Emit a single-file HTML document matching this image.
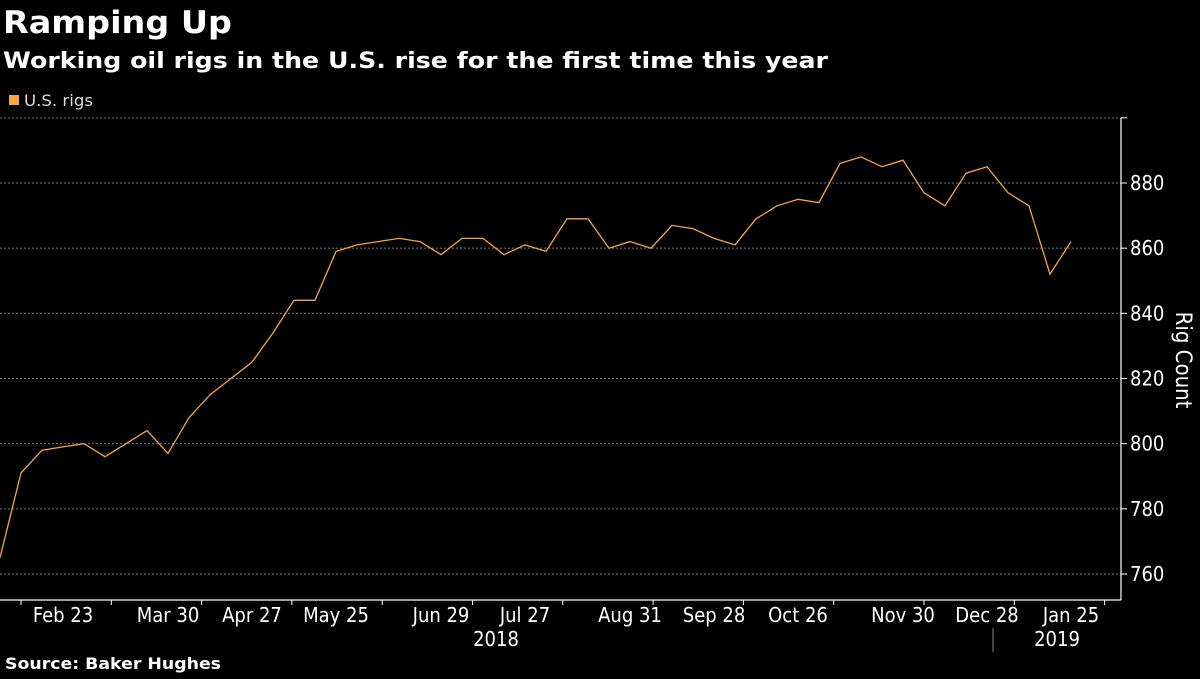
<!DOCTYPE html>
<html><head><meta charset="utf-8"><style>
body{margin:0;background:#000;width:1200px;height:675px;overflow:hidden;font-family:"DejaVu Sans","Liberation Sans",sans-serif;color:#fff}
svg text{font-family:"DejaVu Sans Condensed","DejaVu Sans","Liberation Sans",sans-serif}
</style></head><body>
<svg width="1200" height="675">
<text x="3" y="33" font-size="31" font-weight="bold" fill="#fff" textLength="229" lengthAdjust="spacingAndGlyphs" style="font-family:'DejaVu Sans',sans-serif">Ramping Up</text>
<text x="3" y="68" font-size="22" font-weight="bold" fill="#fff" textLength="825" lengthAdjust="spacingAndGlyphs" style="font-family:'DejaVu Sans',sans-serif">Working oil rigs in the U.S. rise for the first time this year</text>
<g><rect x="9" y="95" width="10" height="10" fill="#f7a541"/><text x="24" y="106" font-size="16" fill="#ddd" textLength="69" lengthAdjust="spacingAndGlyphs">U.S. rigs</text></g>
<g id="grid"></g>
<line x1="0" y1="600" x2="1121" y2="600" stroke="#fff" stroke-width="1.2"/>
<line x1="1121" y1="118" x2="1121" y2="600" stroke="#fff" stroke-width="1.2"/>
<g id="xt"></g>
<text x="496" y="646" font-size="20" fill="#fff" text-anchor="middle">2018</text>
<line x1="993" y1="628" x2="993" y2="652" stroke="#888"/>
<text x="1057" y="646" font-size="20" fill="#fff" text-anchor="middle">2019</text>
<text transform="translate(1176,360) rotate(90)" font-size="22" fill="#fff" text-anchor="middle">Rig Count</text>
<path id="line" fill="none" stroke="#f7a541" stroke-width="1.3"/>
<text x="5" y="669" font-size="16" font-weight="bold" fill="#fff" textLength="216" lengthAdjust="spacingAndGlyphs" style="font-family:'DejaVu Sans',sans-serif">Source: Baker Hughes</text>
</svg>
<script>
const rigs=[765,791,798,799,800,796,800,804,797,808,815,820,825,834,844,844,859,861,862,863,862,858,863,863,858,861,859,869,869,860,862,860,867,866,863,861,869,873,875,874,886,888,885,887,877,873,883,885,877,873,852,862];
const yTicks=[760,780,800,820,840,860,880,900];
const xLabels=["Feb 23","Mar 30","Apr 27","May 25","Jun 29","Jul 27","Aug 31","Sep 28","Oct 26","Nov 30","Dec 28","Jan 25"];
const xLabelIdx=[3,8,12,16,21,25,30,34,38,43,47,51];
const NS="http://www.w3.org/2000/svg";
const X=i=>i*1071/(rigs.length-1);
const Y=v=>574-(v-760)*391/120;
const grid=document.getElementById('grid');
yTicks.forEach(t=>{
 const l=document.createElementNS(NS,'line');
 l.setAttribute('x1',0);l.setAttribute('x2',1121);l.setAttribute('y1',Y(t));l.setAttribute('y2',Y(t));
 l.setAttribute('stroke','#777');l.setAttribute('stroke-dasharray','2,2');
 
 
 grid.appendChild(l);
 const k=document.createElementNS(NS,'line');
 k.setAttribute('x1',1121);k.setAttribute('x2',1127);k.setAttribute('y1',Y(t));k.setAttribute('y2',Y(t));k.setAttribute('stroke','#fff');
 
 
 grid.appendChild(k);
 if(t<900){
 const tx=document.createElementNS(NS,'text');
 tx.setAttribute('x',1130);tx.setAttribute('y',Y(t)+7);tx.setAttribute('font-size','20');tx.setAttribute('fill','#fff');
 tx.textContent=t;
 
 
 grid.appendChild(tx);}
});
const xt=document.getElementById('xt');
xLabels.forEach((s,j)=>{
 const x=X(xLabelIdx[j]);
 const tx=document.createElementNS(NS,'text');
 tx.setAttribute('x',x);tx.setAttribute('y',622);tx.setAttribute('font-size','20');tx.setAttribute('fill','#fff');tx.setAttribute('text-anchor','middle');
 tx.textContent=s;
 
 
 xt.appendChild(tx);
});
for(let i=0;i<rigs.length;i+=4.3){
 const x=X(Math.round(i*10)/10+1);
 const k=document.createElementNS(NS,'line');
 k.setAttribute('x1',x);k.setAttribute('x2',x);k.setAttribute('y1',600);k.setAttribute('y2',605);k.setAttribute('stroke','#fff');
 
 
 xt.appendChild(k);
}
document.getElementById('line').setAttribute('d',rigs.map((v,i)=>(i?'L':'M')+X(i).toFixed(1)+','+Y(v).toFixed(1)).join(''));
</script>
</body></html>
